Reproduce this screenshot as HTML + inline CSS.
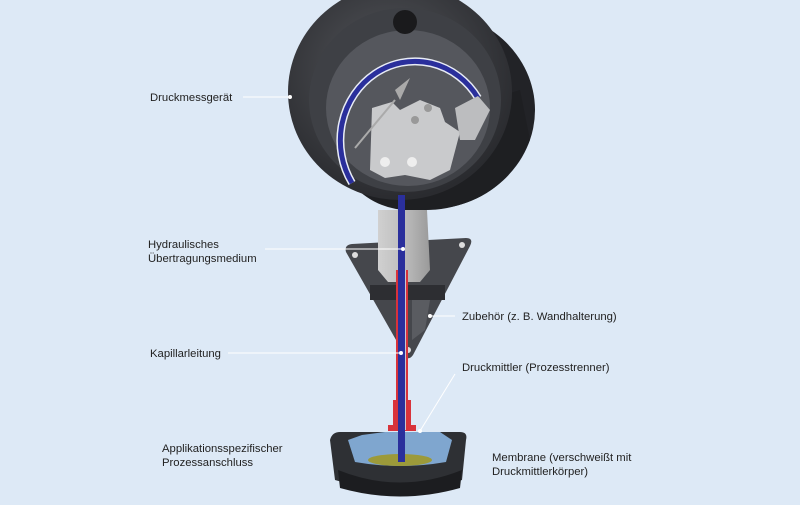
<!DOCTYPE html>
<html><head><meta charset="utf-8"><style>
html,body{margin:0;padding:0}
body{width:800px;height:500px;background:#dde9f6;overflow:hidden;font-family:"Liberation Sans",sans-serif}
</style></head><body>
<svg width="800" height="500" viewBox="0 0 800 500" xmlns="http://www.w3.org/2000/svg">
<defs>
<radialGradient id="rim" cx="0.45" cy="0.4" r="0.6"><stop offset="0" stop-color="#55575c"/><stop offset="1" stop-color="#2a2b2f"/></radialGradient>
<linearGradient id="stem" x1="0" x2="1"><stop offset="0" stop-color="#d0d0d0"/><stop offset="0.5" stop-color="#bdbdbd"/><stop offset="1" stop-color="#9a9a9a"/></linearGradient>
</defs>
<rect width="800" height="500" fill="#dde9f6"/>
<ellipse cx="425" cy="110" rx="110" ry="100" fill="#222327"/>
<path d="M330 150 Q360 215 420 210 Q500 210 530 140 L520 90 Z" fill="#1e1f22"/>
<ellipse cx="400" cy="92" rx="112" ry="108" fill="url(#rim)"/>
<ellipse cx="405" cy="100" rx="96" ry="92" fill="#3e4045"/>
<ellipse cx="408" cy="108" rx="82" ry="78" fill="#55575d"/>
<circle cx="405" cy="22" r="12" fill="#1a1a1c"/>
<path d="M352 183 A66 70 0 0 1 478 98" fill="none" stroke="#e8ecf5" stroke-width="8"/>
<path d="M352 183 A66 70 0 0 1 478 98" fill="none" stroke="#2a2f9c" stroke-width="5"/>
<path d="M372 108 L392 102 L400 110 L420 100 L440 108 L445 122 L460 132 L450 170 L430 180 L405 175 L385 178 L370 170 Z" fill="#c9cacc"/>
<circle cx="385" cy="162" r="5" fill="#eee"/><circle cx="412" cy="162" r="5" fill="#eee"/>
<circle cx="415" cy="120" r="4" fill="#999"/><circle cx="428" cy="108" r="4" fill="#999"/>
<path d="M455 108 L478 96 L490 110 L475 140 L460 140 Z" fill="#bcbdbf"/>
<path d="M395 90 L410 78 L400 100 Z" fill="#aaa"/>
<line x1="395" y1="100" x2="355" y2="148" stroke="#aaa" stroke-width="2"/>
<path d="M346 252 Q344 245 352 244 L466 238 Q474 238 470 246 L413 355 Q408 362 404 354 Z" fill="#45474c"/>
<circle cx="355" cy="255" r="3" fill="#ddd"/><circle cx="462" cy="245" r="3" fill="#ddd"/><circle cx="408" cy="350" r="3" fill="#ddd"/>
<path d="M370 285 L445 285 L445 300 L370 300 Z" fill="#2d2e32"/>
<path d="M412 300 L430 300 L425 330 L412 340 Z" fill="#5a5c61"/>
<path d="M378 210 L427 210 L430 270 L420 282 L388 282 L378 270 Z" fill="url(#stem)"/>
<rect x="396" y="270" width="12" height="160" fill="#d8333b"/>
<rect x="393" y="400" width="18" height="30" fill="#d8333b"/>
<rect x="388" y="425" width="28" height="6" fill="#d8333b"/>
<rect x="398" y="270" width="8" height="160" fill="#c8c8d0"/>
<rect x="398" y="195" width="7" height="260" fill="#2a2f9c"/>
<path d="M330 440 Q332 432 340 432 L460 432 Q468 432 466 440 L462 480 Q400 500 335 480 Z" fill="#2e3034"/>
<path d="M348 440 L362 435 L385 432 L440 432 L452 440 L446 462 Q400 470 355 462 Z" fill="#7fa6cf"/>
<ellipse cx="400" cy="460" rx="32" ry="6" fill="#9c9a3a"/>
<path d="M338 470 Q400 495 462 470 L460 488 Q400 505 340 488 Z" fill="#1c1d20"/>
<rect x="398" y="430" width="7" height="32" fill="#2a2f9c"/>
<g stroke="#fff" stroke-width="1">
<line x1="243" y1="97" x2="290" y2="97"/>
<line x1="265" y1="249" x2="403" y2="249"/>
<line x1="430" y1="316" x2="455" y2="316"/>
<line x1="228" y1="353" x2="401" y2="353"/>
<line x1="455" y1="374" x2="420" y2="431"/>
</g>
<g fill="#fff"><circle cx="290" cy="97" r="2"/><circle cx="403" cy="249" r="2"/><circle cx="430" cy="316" r="2"/><circle cx="401" cy="353" r="2"/><circle cx="420" cy="431" r="2"/></g>
<g font-size="11.3" fill="#222">
<text x="150" y="101">Druckmessgerät</text>
<text x="148" y="248">Hydraulisches</text>
<text x="148" y="262">Übertragungsmedium</text>
<text x="462" y="320">Zubehör (z. B. Wandhalterung)</text>
<text x="150" y="357">Kapillarleitung</text>
<text x="462" y="371">Druckmittler (Prozesstrenner)</text>
<text x="162" y="452">Applikationsspezifischer</text>
<text x="162" y="466">Prozessanschluss</text>
<text x="492" y="461">Membrane (verschweißt mit</text>
<text x="492" y="475">Druckmittlerkörper)</text>
</g>
</svg>
</body></html>
